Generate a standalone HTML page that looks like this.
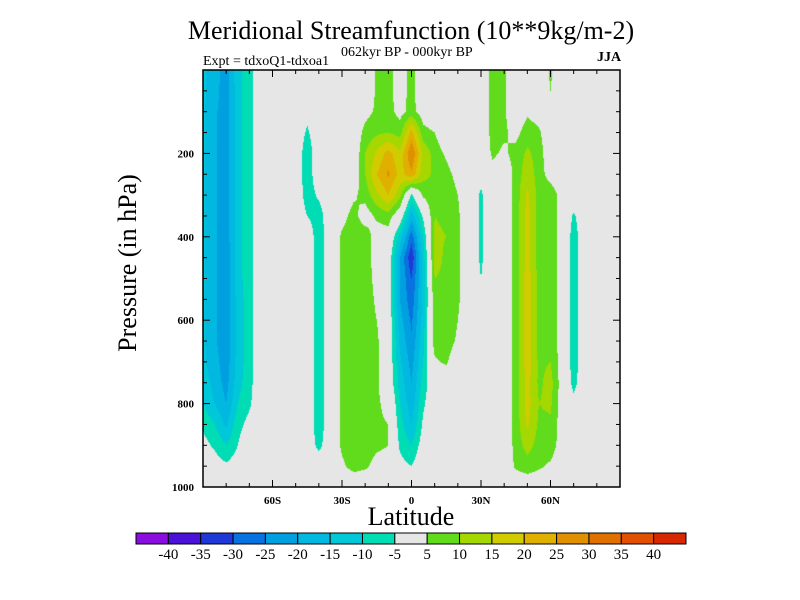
<!DOCTYPE html>
<html><head><meta charset="utf-8">
<style>
body{margin:0;background:#fff;}
#wrap{position:relative;width:800px;height:600px;overflow:hidden;font-family:"Liberation Serif",serif;}
.t{position:absolute;white-space:nowrap;color:#000;}
</style></head>
<body>
<div id="wrap">
<div class="t" style="left:0;width:822px;text-align:center;top:16px;font-size:26px;">Meridional Streamfunction (10**9kg/m-2)</div>
<div class="t" style="left:341px;top:45px;font-size:14px;">062kyr BP - 000kyr BP</div>
<div class="t" style="left:203px;top:54px;font-size:14px;">Expt = tdxoQ1-tdxoa1</div>
<div class="t" style="left:597px;top:50px;font-size:14px;font-weight:bold;">JJA</div>
<div class="t" style="left:128px;top:263px;font-size:26px;transform:translate(-50%,-50%) rotate(-90deg);">Pressure (in hPa)</div>
<div class="t" style="left:311px;width:200px;text-align:center;top:502px;font-size:26px;">Latitude</div>
<canvas id="cv" width="417" height="417" style="position:absolute;left:203px;top:70px;"></canvas>
<svg id="sv" width="800" height="600" style="position:absolute;left:0;top:0;"></svg>
</div>
<script>
const lats=[-90,-85,-80,-75,-70,-65,-60,-55,-50,-45,-40,-35,-30,-25,-20,-15,-10,-5,0,5,10,15,20,25,30,35,40,45,50,55,60,65,70,75,80,85,90];
const pressures=[0,50,100,150,200,250,300,350,400,450,500,550,600,650,700,750,800,850,900,950,1000];
const Z=new Array(21).fill(0);
const field=[
[-14,-14,-14,-14,-14,-14,-14,-14,-14,-14,-14,-14,-14,-14,-14,-12,-10,-6,-3,-1,0],
[-18,-18,-19,-19,-19,-19,-19,-19,-19,-19,-19,-19,-19,-19,-18,-17,-15,-10,-6,-2,0],
[-22,-23,-23,-23,-23,-23,-23,-23,-23,-24,-24,-24,-24,-24,-23,-22,-20,-16,-10,-4,0],
[-12,-12,-12,-12,-12,-12,-12,-12,-12,-12,-12,-13,-13,-13,-13,-12,-10,-7,-5,-2,0],
[-7,-7,-7,-7,-7,-7,-7,-7,-7,-7,-7,-7,-7,-7,-7,-7,-6,-3,0,0,0],
Z,Z,Z,Z,
[0,0,-3,-6,-9,-9,-8,-5,0,0,0,0,0,0,0,0,0,0,0,0,0],
[0,0,0,0,0,0,-4,-8,-9,-9,-9,-9,-9,-9,-9,-9,-9,-9,-7,0,0],
Z,
[0,0,0,0,0,0,0,3,6,6,6,6,6,6,6,6,6,6,6,4,0],
[0,0,0,0,0,0,4,7,8,8,8,8,8,8,8,8,8,8,8,7,0],
[0,0,3,7,10,10,7,2,8,8,8,8,8,8,8,8,8,8,8,6,0],
[6,6,6,9,16,20,14,6,2,2,3,4,5,6,6,6,6,6,6,3,0],
[7,7,7,10,22,26,20,8,2,0,0,0,0,0,0,0,3,5,5,3,0],
[2,2,3,8,16,18,12,0,-12,-20,-20,-20,-18,-16,-14,-12,-10,-8,-6,-3,0],
[7,7,7,22,30,24,-6,-18,-28,-34,-30,-28,-26,-24,-22,-20,-18,-15,-10,-5,0],
[0,0,2,7,14,12,6,-4,-10,-13,-14,-14,-13,-12,-10,-8,-6,-4,-2,0,0],
[0,0,0,5,8,9,9,10,11,12,10,9,9,8,4,0,0,0,0,0,0],
[0,0,0,0,4,7,9,9,10,9,9,9,9,8,6,0,0,0,0,0,0],
[0,0,0,0,0,3,5,6,6,6,6,6,5,4,0,0,0,0,0,0,0],
Z,
[0,0,0,0,0,-3,-6,-6,-6,-6,-5,-1,0,0,0,0,0,0,0,0,0],
[7,7,7,7,6,3,0,0,0,0,0,0,0,0,0,0,0,0,0,0,0],
[6,6,6,6,4,0,0,0,0,0,0,0,0,0,0,0,0,0,0,0,0],
[0,0,0,3,7,7,7,7,7,7,7,7,7,7,7,7,7,7,7,6,0],
[0,0,4,8,11,13,16,17,17,17,18,18,18,18,18,17,17,16,12,8,0],
[0,0,2,6,8,8,8,8,8,8,8,8,8,8,9,9,10,9,8,6,0],
[6,5,0,0,0,2,9,9,9,9,9,9,9,9,10,12,11,9,8,4,0],
[0,0,0,0,0,0,2,2,2,2,2,2,2,2,2,2,2,2,2,0,0],
[0,0,0,0,0,0,0,-6,-8,-8,-8,-8,-8,-8,-8,-7,-3,0,0,0,0],
Z,Z,Z,Z
];
const levels=[-40,-35,-30,-25,-20,-15,-10,-5,5,10,15,20,25,30,35,40];
const colors=["#8a0ee0","#4a12d8","#2038d8","#0872e0","#00a0e0","#00b8e0","#00c8d8","#00dcb4","#e6e6e6","#60dc1c","#a4d800","#d0cc00","#e0b000","#e09000","#e07000","#e05000","#d82800"];
const xTickVals=[-60,-30,0,30,60];
const xTickLabels=["60S","30S","0","30N","60N"];
const yTickVals=[200,400,600,800,1000];

const X0=203,X1=620,Y0=70,Y1=487;
const xs=l=>X0+(l+90)/180*(X1-X0);
const ys=p=>Y0+p/1000*(Y1-Y0);
function val(lat,p){
  let fi=(lat-lats[0])/(lats[1]-lats[0]);fi=Math.max(0,Math.min(lats.length-1.0001,fi));
  let fj=(p-pressures[0])/(pressures[1]-pressures[0]);fj=Math.max(0,Math.min(pressures.length-1.0001,fj));
  const i=Math.floor(fi),j=Math.floor(fj),a=fi-i,b=fj-j;
  return (1-a)*(1-b)*field[i][j]+a*(1-b)*field[i+1][j]+(1-a)*b*field[i][j+1]+a*b*field[i+1][j+1];
}
const cv=document.getElementById('cv'),ctx=cv.getContext('2d');
const W=cv.width,H=cv.height;
const img=ctx.createImageData(W,H);
const rgb=colors.map(c=>[parseInt(c.substr(1,2),16),parseInt(c.substr(3,2),16),parseInt(c.substr(5,2),16)]);
for(let py=0;py<H;py++){
  const p=(py+0.5)/H*1000;
  for(let px=0;px<W;px++){
    const lat=-90+(px+0.5)/W*180;
    const v=val(lat,p);
    let k=0;while(k<levels.length&&v>=levels[k])k++;
    const c=rgb[k],o=(py*W+px)*4;
    img.data[o]=c[0];img.data[o+1]=c[1];img.data[o+2]=c[2];img.data[o+3]=255;
  }
}
ctx.putImageData(img,0,0);

const sv=document.getElementById('sv');const NS="http://www.w3.org/2000/svg";
function mk(tag,attrs){const e=document.createElementNS(NS,tag);for(const k in attrs)e.setAttribute(k,attrs[k]);sv.appendChild(e);return e;}
const frame=mk('rect',{x:X0,y:Y0,width:X1-X0,height:Y1-Y0,fill:'none',stroke:'#000','stroke-width':1.5});


for(let l=-80;l<=80;l+=10){
  const major=(l%30===0);const len=major?7:4;const x=xs(l);
  const t1=mk('line',{x1:x,x2:x,y1:Y1,y2:Y1-len,stroke:'#000','stroke-width':1});
  
  
  const t2=mk('line',{x1:x,x2:x,y1:Y0,y2:Y0+len,stroke:'#000','stroke-width':1});
  
  
}
xTickVals.forEach((v,i)=>{
  const t=mk('text',{x:xs(v),y:Y1+17,'text-anchor':'middle','font-family':'Liberation Serif, serif','font-size':11,'font-weight':'bold'});
  t.textContent=xTickLabels[i];
  
  
});
for(let p=50;p<1000;p+=50){
  const major=(p%200===0);const len=major?7:4;const y=ys(p);
  const t1=mk('line',{x1:X0,x2:X0+len,y1:y,y2:y,stroke:'#000','stroke-width':1});
  
  
  const t2=mk('line',{x1:X1,x2:X1-len,y1:y,y2:y,stroke:'#000','stroke-width':1});
  
  
}
yTickVals.forEach(v=>{
  const t=mk('text',{x:X0-9,y:ys(v)+4,'text-anchor':'end','font-family':'Liberation Serif, serif','font-size':11,'font-weight':'bold'});
  t.textContent=String(v);
  
  
});
const CB0=136,CB1=686,CBY=533,CBH=11;const bw=(CB1-CB0)/colors.length;
colors.forEach((c,i)=>{
  const r=mk('rect',{x:CB0+i*bw,y:CBY,width:bw,height:CBH,fill:c,stroke:'#000','stroke-width':1});
  
  
});
levels.forEach((v,i)=>{
  const t=mk('text',{x:CB0+(i+1)*bw,y:CBY+CBH+15,'text-anchor':'middle','font-family':'Liberation Serif, serif','font-size':15});
  t.textContent=String(v);
  
  
});
</script>
</body></html>
